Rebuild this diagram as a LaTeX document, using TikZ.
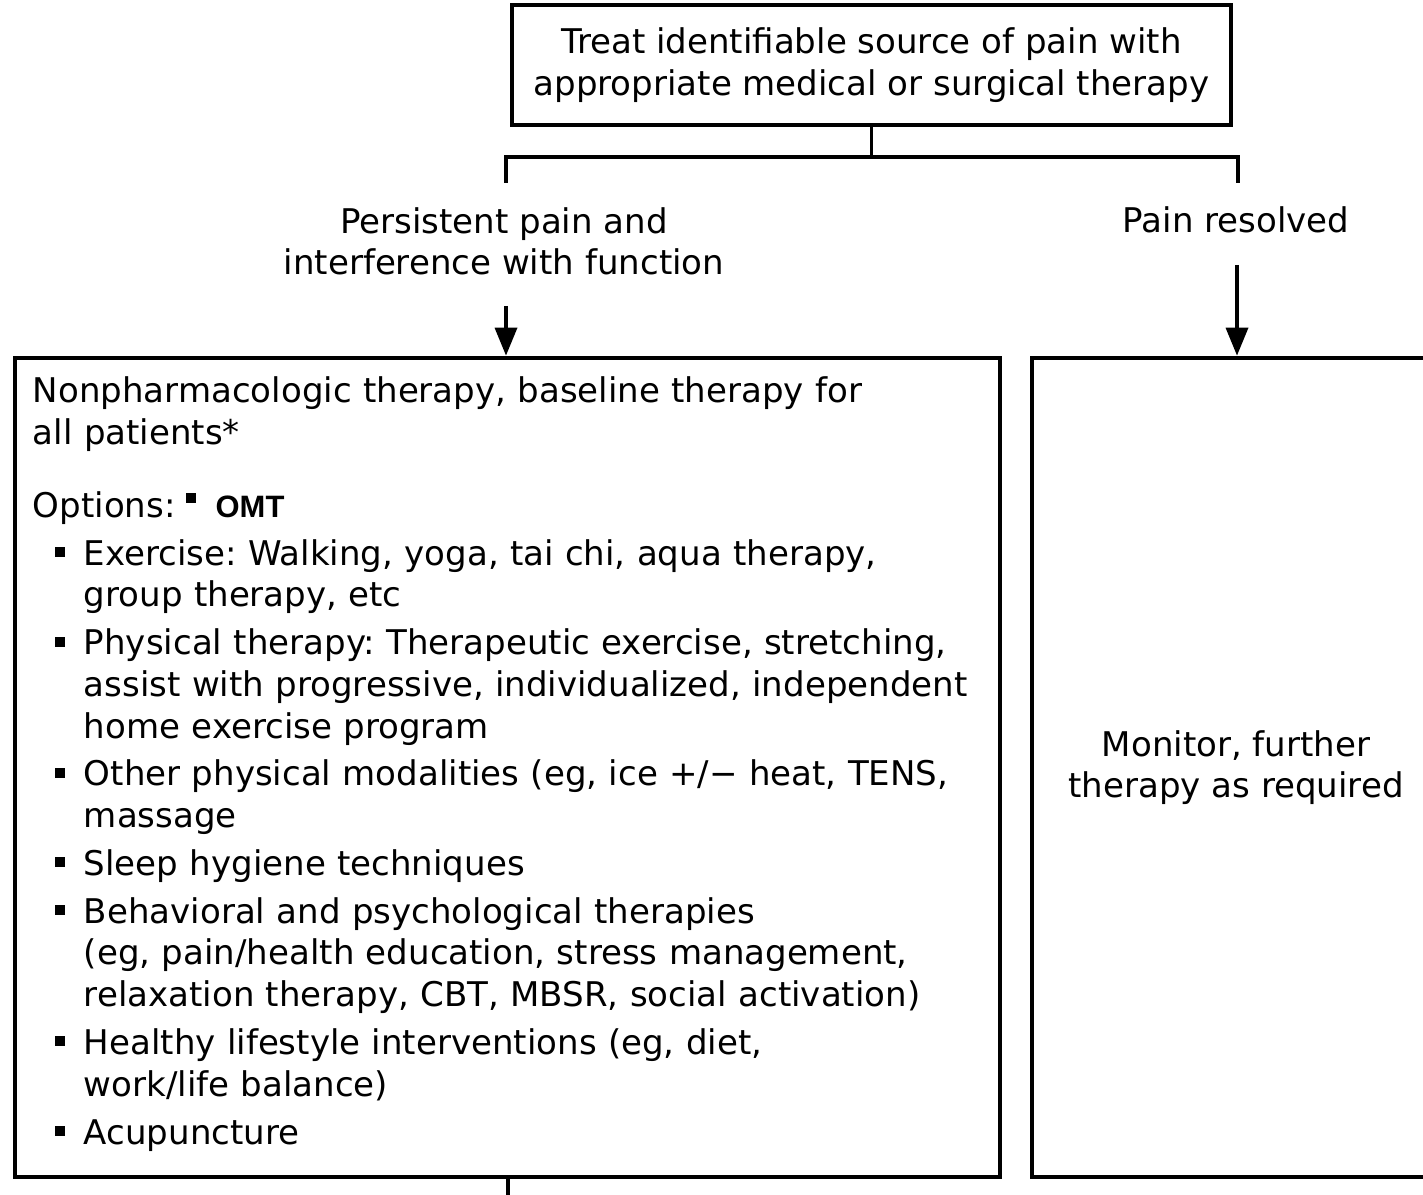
\documentclass[tikz,border=0pt]{standalone}
\usepackage{fontspec}
\setmainfont{DejaVu Sans}
\newfontfamily\omtfont{Liberation Sans}
\usepackage{enumitem}
\usetikzlibrary{positioning, arrows.meta, calc}
\newlength{\pxu}
\setlength{\pxu}{0.025cm}
\newcommand{\bodyfont}{\fontsize{24.2pt}{29.7pt}\selectfont\frenchspacing}
\newcommand{\sqbullet}{\rule[8\pxu]{10\pxu}{10\pxu}}
\newcommand{\optbullet}{\rule[14\pxu]{10\pxu}{10\pxu}}
\tikzset{
  % --- nodes ---
  topbox/.style    = {draw=black, line width=3.2pt, align=center, inner sep=0pt,
                      minimum width=17.975cm, minimum height=3cm},
  sidebox/.style   = {draw=black, line width=3.2pt, align=center, inner sep=0pt,
                      minimum height=20.475cm},
  branchtxt/.style = {align=center, inner sep=0pt, anchor=base},
  listtext/.style  = {anchor=north west, inner sep=0pt, text width=23.9cm, align=left},
  % --- edges ---
  link/.style      = {line width=2.5pt, black},
  flow/.style      = {-{Triangle[width=0.55cm, length=0.7cm]}, line width=2.5pt, black},
}

\begin{document}
\begin{tikzpicture}[x=0.025cm, y=-0.025cm, font=\bodyfont]
  \useasboundingbox (0,0) rectangle (1423,1195);

  % ===================================================================
  %  BOXES
  % ===================================================================
  \node[topbox] (treat) at (871.5, 65)
    {Treat identifiable source of pain with\\appropriate medical or surgical therapy};

  \node[sidebox, minimum width=24.625cm] (nonpharm) at (507.5, 767.5) {};
  \node[sidebox, minimum width=10.2cm]   (monitor)  at (1236, 767.5)
    {Monitor, further\\therapy as required};

  % --- branch labels (base = last line) ---
  \node[branchtxt] (persist)  at (504, 275) {Persistent pain and\\interference with function};
  \node[branchtxt] (resolved) at (1236, 233) {Pain resolved};

  % --- option list inside the left box ---
  \node[listtext] (optlist) at ($(nonpharm.north west)+(20,21)$) {%
    \setlength{\parskip}{0pt}%
    Nonpharmacologic therapy, baseline therapy for\newline
    all patients*\par
    \vspace{31\pxu}%
    Options:\hspace{10\pxu}\optbullet\hspace{20\pxu}{\omtfont\bfseries\fontsize{22pt}{29.7pt}\selectfont OMT}\par
    \begin{itemize}[label=\sqbullet, leftmargin=51\pxu, labelsep=19\pxu, labelwidth=10\pxu,
                    itemsep=6\pxu, topsep=6\pxu, parsep=0pt, partopsep=0pt]
      \item Exercise: Walking, yoga, tai chi, aqua therapy,\newline group therapy, etc
      \item Physical therapy: Therapeutic exercise, stretching,\newline
            assist with progressive, individualized, independent\newline
            home exercise program
      \item Other physical modalities (eg, ice +/\textminus{} heat, TENS,\newline massage
      \item Sleep hygiene techniques
      \item Behavioral and psychological therapies\newline
            (eg, pain/health education, stress management,\newline
            relaxation therapy, CBT, MBSR, social activation)
      \item Healthy lifestyle interventions (eg, diet,\newline work/life balance)
      \item Acupuncture
    \end{itemize}};

  % ===================================================================
  %  CONNECTORS
  % ===================================================================
  \coordinate (lbranch) at (506, 157);
  \coordinate (rbranch) at (1238, 157);
  \coordinate (lend)    at (506, 183);
  \coordinate (rend)    at (1238, 183);
  \coordinate (lstart)  at (506, 306);
  \coordinate (rstart)  at (1237, 265);
  \coordinate (lout)    at (508, 1215);

  \draw[link] (treat.south) -- (treat.south |- lbranch);
  \draw[link] (lend) -- (lbranch) -- (rbranch) -- (rend);
  \draw[flow] (lstart) -- (lstart |- nonpharm.north);
  \draw[flow] (rstart) -- (rstart |- monitor.north);
  \draw[link] (nonpharm.south -| lout) -- (lout);

\end{tikzpicture}
\end{document}
